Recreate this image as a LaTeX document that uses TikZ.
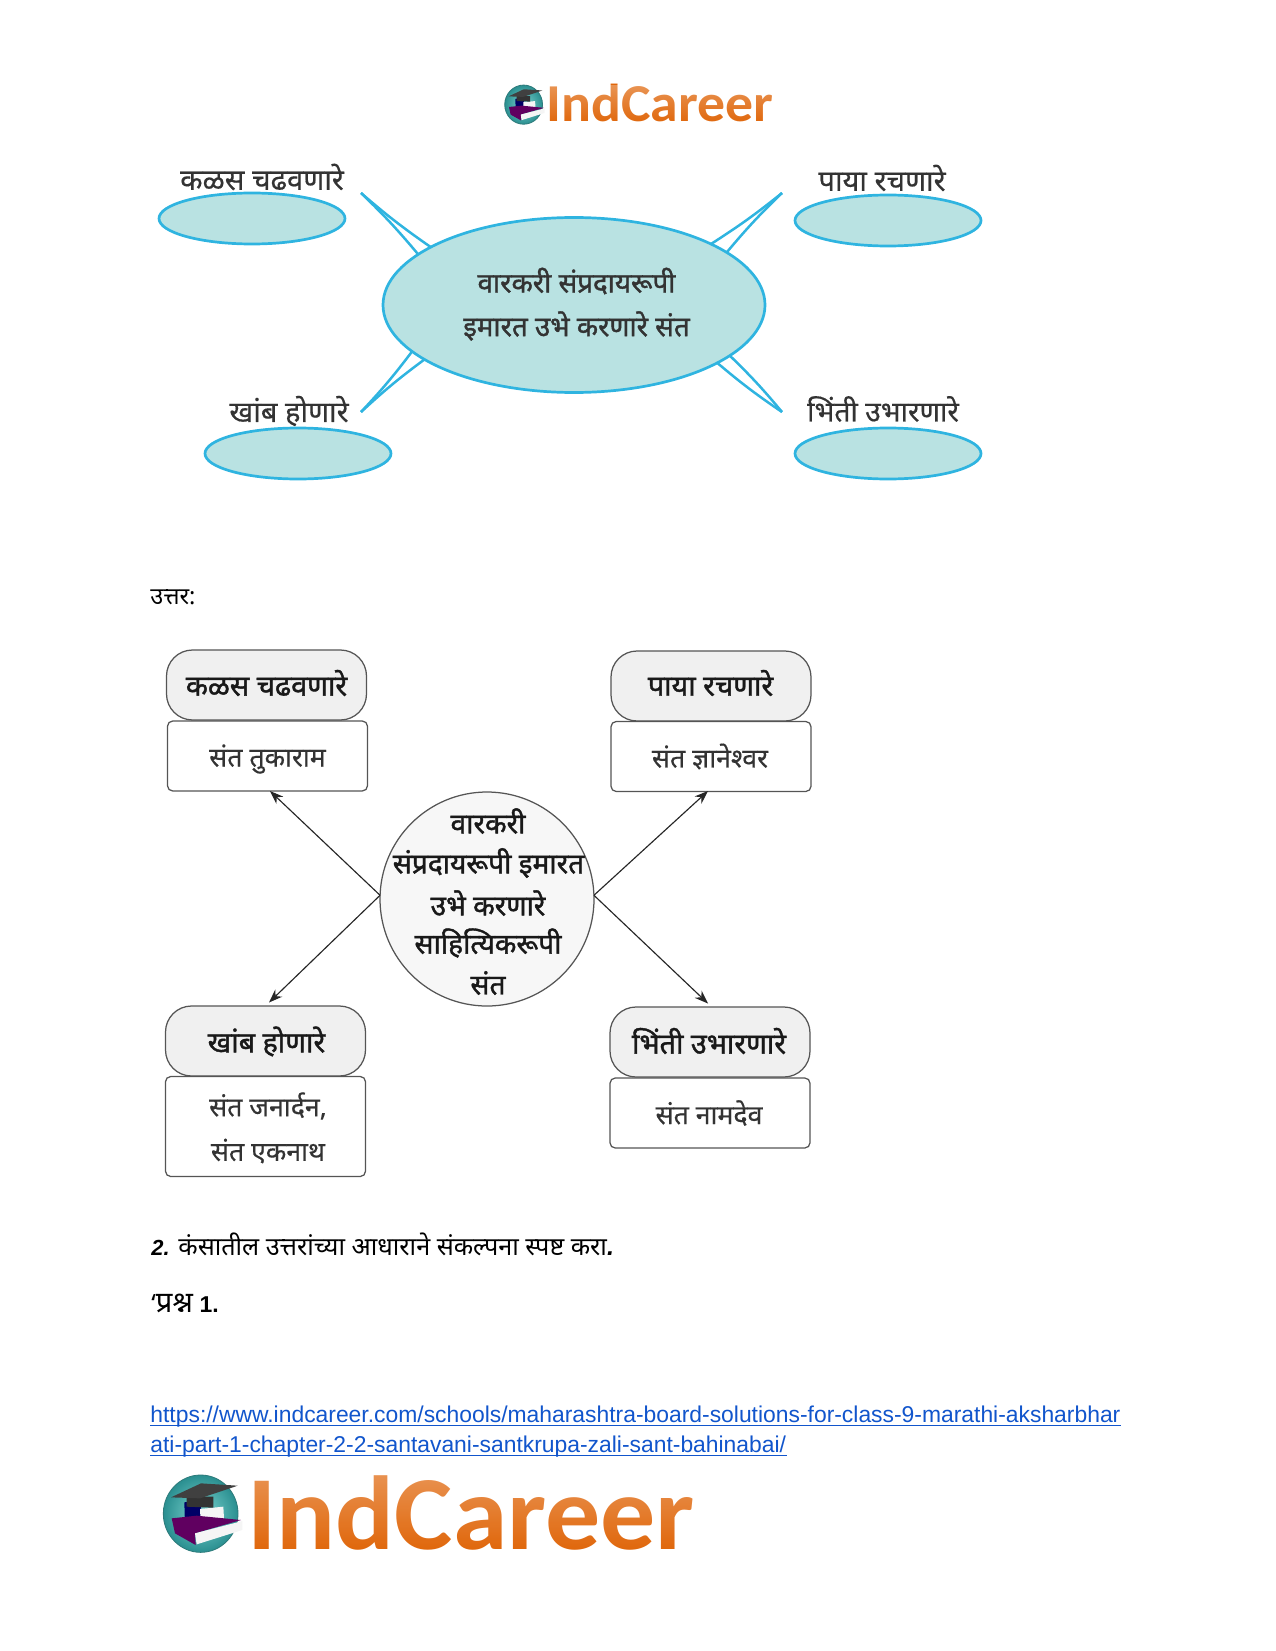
\documentclass[tikz,border=0pt]{standalone}
\usepackage{fontspec}
\usepackage{graphicx}
\usetikzlibrary{shapes.geometric,arrows.meta,fadings}
\setmainfont{Liberation Sans}
\newfontfamily\dev[Script=Devanagari]{Noto Sans}
\newfontfamily\devb[Script=Devanagari,FakeBold=1.4]{Noto Sans}
\newfontfamily\devm[Script=Devanagari,FakeBold=0.4]{Noto Sans}
\newfontfamily\logofont{Carlito}
\definecolor{cyanl}{HTML}{2FB4E0}
\definecolor{tealf}{HTML}{B9E2E2}
\definecolor{inkd}{HTML}{333333}
\definecolor{boxl}{HTML}{555555}
\definecolor{linkb}{HTML}{1155CC}
\definecolor{logoo}{HTML}{E0660A}
\definecolor{icin}{HTML}{7FD6D2}
\definecolor{icout}{HTML}{2A8F90}
\definecolor{icrim}{HTML}{2E7B7B}
\tikzfading[name=logofade,top color=transparent!70,bottom color=transparent!100]
\tikzset{
 tealell/.style={ellipse,draw=cyanl,line width=1.3pt,fill=tealf,inner sep=0pt,outer sep=0pt},
 spike/.style={draw=cyanl,line width=1.2pt},
 toptext/.style={font=\devm\fontsize{14}{16}\selectfont,text=inkd,inner sep=0pt},
 midtext/.style={font=\devb\fontsize{13.3}{16}\selectfont,text=inkd,inner sep=0pt},
 capbox/.style={draw=boxl,line width=0.6pt,rounded corners=12.5pt,fill=black!6,minimum width=96pt,minimum height=33.6pt,inner sep=0pt,outer sep=0pt},
 ansbox/.style={draw=boxl,line width=0.6pt,rounded corners=2.5pt,fill=white,minimum width=96pt,inner sep=0pt,outer sep=0pt},
 captext/.style={font=\devb\fontsize{13.8}{16}\selectfont,text=black!90,inner sep=0pt},
 hubtext/.style={font=\devb\fontsize{13.5}{16}\selectfont,text=black!90,inner sep=0pt},
 anstext/.style={font=\devm\fontsize{12.8}{16}\selectfont,text=black!80,inner sep=0pt},
 arrowl/.style={draw=black!85,line width=0.55pt,-{Stealth[length=6.5pt,width=4.8pt]}},
 bodytext/.style={font=\dev\fontsize{12.1}{13}\selectfont,text=black,inner sep=0pt,anchor=base west},
 linktext/.style={font=\fontsize{10.98}{13}\selectfont,text=linkb,inner sep=0pt,anchor=base west},
}
\newcommand{\logoicon}[3]{%
 \begin{scope}[shift={(#1,#2)},x=#3,y=-#3]
  \shade[inner color=icin,outer color=icout,draw=icrim,line width=0.4pt] (137,146) ellipse [x radius=112,y radius=116];
  \fill[blue!40!black] (88,112) -- (138,105) -- (138,172) -- (90,180) -- cycle;
  \fill[white!92!gray] (135,132) -- (205,125) -- (207,160) -- (137,172) -- cycle;
  \fill[violet!75!black] (50,160) -- (125,152) -- (258,165) -- (120,205) -- (122,240) -- (60,205) -- cycle;
  \fill[white!92!gray] (120,205) -- (262,168) -- (262,195) -- (125,238) -- cycle;
  \fill[black!80] (95,95) -- (175,95) -- (175,128) -- (95,125) -- cycle;
  \fill[black!75] (48,97) -- (138,55) -- (248,62) -- (135,100) -- cycle;
 \end{scope}}
\begin{document}
\begin{tikzpicture}[x=0.48pt,y=-0.48pt]
\useasboundingbox (0,0) rectangle (1275,1651);
% top logo
\logoicon{500.5}{80}{0.081pt}
\node[font=\logofont\bfseries\fontsize{25.6}{30}\selectfont,text=logoo,inner sep=0pt,anchor=base west] (logoa) at (546,122) {\scalebox{1.045}[1]{IndCareer}};
\fill[white,path fading=logofade] (544,85) rectangle (776,124);
% top diagram
\node[tealell,minimum width=382*0.48pt,minimum height=175*0.48pt] (main) at (574,305) {};
\node[tealell,minimum width=186*0.48pt,minimum height=51*0.48pt] (etl) at (252,218.5) {};
\node[tealell,minimum width=186*0.48pt,minimum height=51*0.48pt] (etr) at (888,220.5) {};
\node[tealell,minimum width=186*0.48pt,minimum height=51*0.48pt] (ebl) at (298,453.5) {};
\node[tealell,minimum width=186*0.48pt,minimum height=51*0.48pt] (ebr) at (888,453.5) {};
\coordinate (ttl) at (361,193);
\coordinate (ttr) at (782,193);
\coordinate (tbl) at (361,412);
\coordinate (tbr) at (782,412);
\draw[spike] (main.158) to[bend left=3] (ttl);
\draw[spike] (main.162) to[bend right=3] (ttl);
\draw[spike] (main.24.4) to[bend right=3] (ttr);
\draw[spike] (main.19.4) to[bend left=3] (ttr);
\draw[spike] (main.196.6) to[bend left=3] (tbl);
\draw[spike] (main.200.4) to[bend right=3] (tbl);
\draw[spike] (main.-22.8) to[bend right=3] (tbr);
\draw[spike] (main.-18) to[bend left=3] (tbr);
\node[toptext] (la) at (262,177) {कळस चढवणारे};
\node[toptext] (lb) at (882,178) {पाया रचणारे};
\node[toptext] (lc) at (289,411) {खांब होणारे};
\node[toptext,font=\devm\fontsize{13.6}{16}\selectfont] (ld) at (883,409) {भिंती उभारणारे};
\node[midtext] (ma) at (576.5,281) {वारकरी संप्रदायरूपी};
\node[midtext] (mb) at (576.5,326) {इमारत उभे करणारे संत};
% answer
\node[bodytext,font=\dev\fontsize{11.3}{13}\selectfont] (ans) at (150,604) {उत्तर:};
\node[capbox] (ctl) at (266.5,685) {};
\node[ansbox,minimum height=33.6pt] (btl) at (267.5,756) {};
\node[capbox] (ctr) at (711,686) {};
\node[ansbox,minimum height=33.6pt] (btr) at (711,756.5) {};
\node[capbox] (cbl) at (265.5,1041) {};
\node[ansbox,minimum height=48pt] (bbl) at (265.5,1126.5) {};
\node[capbox] (cbr) at (710,1042) {};
\node[ansbox,minimum height=33.6pt] (bbr) at (710,1113) {};
\node[circle,draw=boxl,line width=0.6pt,fill=black!3,minimum size=214*0.48pt,inner sep=0pt,outer sep=0pt] (hub) at (487,899) {};
\coordinate (atl) at (270,791);
\coordinate (atr) at (708,791);
\coordinate (abl) at (269,1002.5);
\coordinate (abr) at (708,1003.5);
\draw[arrowl] (hub.178) -- (atl);
\draw[arrowl] (hub.178) -- (abl);
\draw[arrowl] (hub.2) -- (atr);
\draw[arrowl] (hub.2) -- (abr);
\node[captext] (t1) at (266.5,683) {कळस चढवणारे};
\node[anstext] (t2) at (267.5,759) {संत तुकाराम};
\node[captext] (t3) at (710.5,683) {पाया रचणारे};
\node[anstext] (t4) at (710,756.5) {संत ज्ञानेश्वर};
\node[captext] (t5) at (266.5,1041.5) {खांब होणारे};
\node[anstext] (t6) at (268,1106) {संत जनार्दन,};
\node[anstext] (t7) at (268,1151) {संत एकनाथ};
\node[captext] (t8) at (709,1041) {भिंती उभारणारे};
\node[anstext] (t9) at (709,1113) {संत नामदेव};
\node[hubtext] (h1) at (488,821) {वारकरी};
\node[hubtext] (h2) at (488.5,863) {संप्रदायरूपी इमारत};
\node[hubtext] (h3) at (488,903) {उभे करणारे};
\node[hubtext] (h4) at (488,943) {साहित्यिकरूपी};
\node[hubtext] (h5) at (488,983) {संत};
% body
\node[bodytext] (q2) at (151,1255) {{\rmfamily\bfseries\itshape\fontsize{10.5}{13}\selectfont 2.} कंसातील उत्तरांच्या आधाराने संकल्पना स्पष्ट करा{\rmfamily\bfseries\itshape .}};
\node[bodytext] (q1) at (151,1312) {‘{\fontsize{14}{14}\selectfont प्रश्न} {\rmfamily\bfseries\fontsize{11}{13}\selectfont 1.}};
\node[linktext] (u1) at (150,1422) {https://www.indcareer.com/schools/maharashtra-board-solutions-for-class-9-marathi-aksharbhar};
\node[linktext] (u2) at (150,1452) {ati-part-1-chapter-2-2-santavani-santkrupa-zali-sant-bahinabai/};
\draw[linkb,line width=0.55pt] ([yshift=-1.6pt]u1.base west) -- ([yshift=-1.6pt]u1.base east);
\draw[linkb,line width=0.55pt] ([yshift=-1.6pt]u2.base west) -- ([yshift=-1.6pt]u2.base east);
% bottom logo
\logoicon{155}{1465}{0.16pt}
\node[font=\logofont\bfseries\fontsize{50.5}{60}\selectfont,text=logoo,inner sep=0pt,anchor=base west] (logob) at (247,1549) {\scalebox{1.045}[1]{IndCareer}};
\fill[white,path fading=logofade] (246,1471) rectangle (700,1552);
\end{tikzpicture}
\end{document}
